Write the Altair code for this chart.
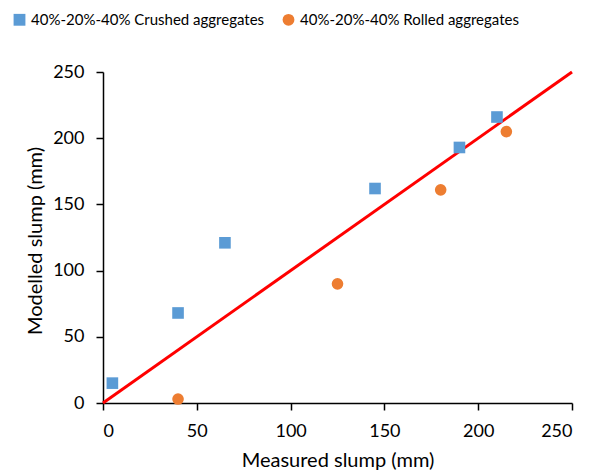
import altair as alt
import pandas as pd

crushed_x = [5, 40, 65, 145, 190, 210]
crushed_y = [15, 68, 121, 162, 193, 216]
rolled_x = [40, 125, 180, 215]
rolled_y = [3, 90, 161, 205]
series_names = ["40%-20%-40% Crushed aggregates", "40%-20%-40% Rolled aggregates"]
line_x = [0, 250]
line_y = [0, 250]
ticks = [0, 50, 100, 150, 200, 250]

pts = pd.DataFrame({
    "x": crushed_x + rolled_x,
    "y": crushed_y + rolled_y,
    "series": [series_names[0]] * len(crushed_x) + [series_names[1]] * len(rolled_x),
})
ln = pd.DataFrame({"x": line_x, "y": line_y})

FONT = "Lato"
xscale = alt.Scale(domain=[0, 250], nice=False, zero=True)
yscale = alt.Scale(domain=[0, 250], nice=False, zero=True)

xaxis = alt.Axis(values=ticks, title="Measured slump (mm)", grid=False,
                 domainColor="black", tickColor="black", domainWidth=1.5, tickWidth=1.5,
                 tickSize=7, labelFontSize=18, labelColor="black", labelPadding=12,
                 labelFont=FONT, titleFont=FONT, titleFontSize=20, titleFontWeight="normal",
                 titleColor="black", titleX=234.5, titleY=63, titleBaseline="alphabetic")
yaxis = alt.Axis(values=ticks, title="Modelled slump (mm)", grid=False,
                 domainColor="black", tickColor="black", domainWidth=1.5, tickWidth=1.5,
                 tickSize=7, labelFontSize=18, labelColor="black", labelPadding=12,
                 labelFont=FONT, titleFont=FONT, titleFontSize=20, titleFontWeight="normal",
                 titleColor="black", titleX=-68, titleY=168.5, titleBaseline="middle",
                 titleAngle=-90, titleAlign="center")

line = alt.Chart(ln).mark_line(color="#FF0000", strokeWidth=3, clip=False).encode(
    x=alt.X("x:Q", scale=xscale, axis=xaxis),
    y=alt.Y("y:Q", scale=yscale, axis=yaxis),
)

points = alt.Chart(pts).mark_point(filled=True, opacity=1, size=135).encode(
    x=alt.X("x:Q", scale=xscale, axis=xaxis),
    y=alt.Y("y:Q", scale=yscale, axis=yaxis),
    color=alt.Color("series:N", scale=alt.Scale(domain=series_names, range=["#5B9BD5", "#ED7D31"]),
                    legend=alt.Legend(title=None, orient="none", legendX=-91, legendY=-60,
                                      direction="horizontal", labelFont=FONT, labelFontSize=15,
                                      labelColor="black", symbolSize=140, labelOffset=4,
                                      columnPadding=14, symbolOpacity=1, padding=0,
                                      labelLimit=0)),
    shape=alt.Shape("series:N", scale=alt.Scale(domain=series_names, range=["square", "circle"])),
)

chart = alt.layer(line, points).properties(
    width=469, height=331,
    autosize=alt.AutoSizeParams(type="none"),
    padding={"left": 95, "top": 64, "right": 25, "bottom": 68},
).configure_view(stroke=None)

chart.save("out.html", embed_options={"renderer": "svg", "actions": False})
